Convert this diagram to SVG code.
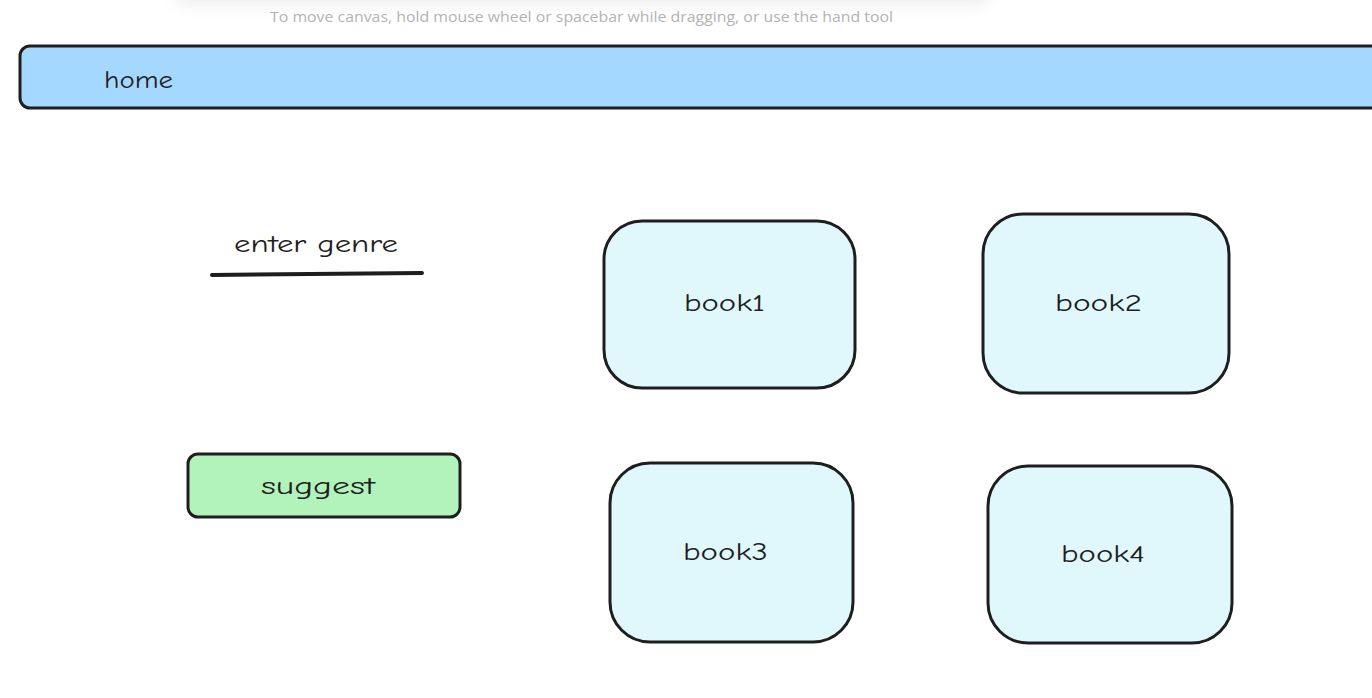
<svg xmlns="http://www.w3.org/2000/svg" width="1372" height="698" viewBox="0 0 1372 698">
<defs>
<filter id="sh" x="-10%" y="-200%" width="120%" height="500%"><feGaussianBlur stdDeviation="8"/></filter>
</defs>
<style>
.st{stroke:#1e1e1e;stroke-width:3;stroke-linejoin:round;stroke-linecap:round}
.book{fill:#e0f8fb}
.lbl{font-family:"Comic Neue","Open Sans","Liberation Sans",sans-serif;font-size:24px;fill:#1e1e1e}
.hint{font-family:"Open Sans","Liberation Sans",sans-serif;font-size:14px;fill:#b3b3b3}
</style>
<rect width="1372" height="698" fill="#ffffff"/>
<rect x="175" y="-30" width="815" height="36" rx="8" fill="#000" opacity="0.06" filter="url(#sh)"/>
<text class="hint" x="270" y="22" textLength="623" lengthAdjust="spacingAndGlyphs">To move canvas, hold mouse wheel or spacebar while dragging, or use the hand tool</text>
<g id="home">
<rect class="st" x="20" y="46" width="1380" height="62" rx="10" fill="#a5d8ff"/>
<text class="lbl" x="104" y="88" textLength="69" lengthAdjust="spacingAndGlyphs">home</text>
</g>
<g id="enter-genre">
<text class="lbl" x="234" y="252" textLength="164" lengthAdjust="spacingAndGlyphs">enter genre</text>
<path d="M212 275 L422 273" stroke="#1e1e1e" stroke-width="4" stroke-linecap="round" fill="none"/>
</g>
<g id="suggest">
<rect class="st" x="188" y="454" width="272" height="63" rx="10" fill="#b2f2bb"/>
<text class="lbl" x="261" y="494" textLength="114" lengthAdjust="spacingAndGlyphs">suggest</text>
</g>
<g id="book1">
<rect class="st book" x="604" y="221" width="251" height="167" rx="38"/>
<text class="lbl" x="684" y="311" textLength="81" lengthAdjust="spacingAndGlyphs">book1</text>
</g>
<g id="book2">
<rect class="st book" x="983" y="214" width="246" height="179" rx="40"/>
<text class="lbl" x="1055" y="311" textLength="87" lengthAdjust="spacingAndGlyphs">book2</text>
</g>
<g id="book3">
<rect class="st book" x="610" y="463" width="243" height="179" rx="40"/>
<text class="lbl" x="683" y="560" textLength="85" lengthAdjust="spacingAndGlyphs">book3</text>
</g>
<g id="book4">
<rect class="st book" x="988" y="466" width="244" height="177" rx="40"/>
<text class="lbl" x="1061" y="562" textLength="84" lengthAdjust="spacingAndGlyphs">book4</text>
</g>
<g id="connectors"></g>
</svg>
